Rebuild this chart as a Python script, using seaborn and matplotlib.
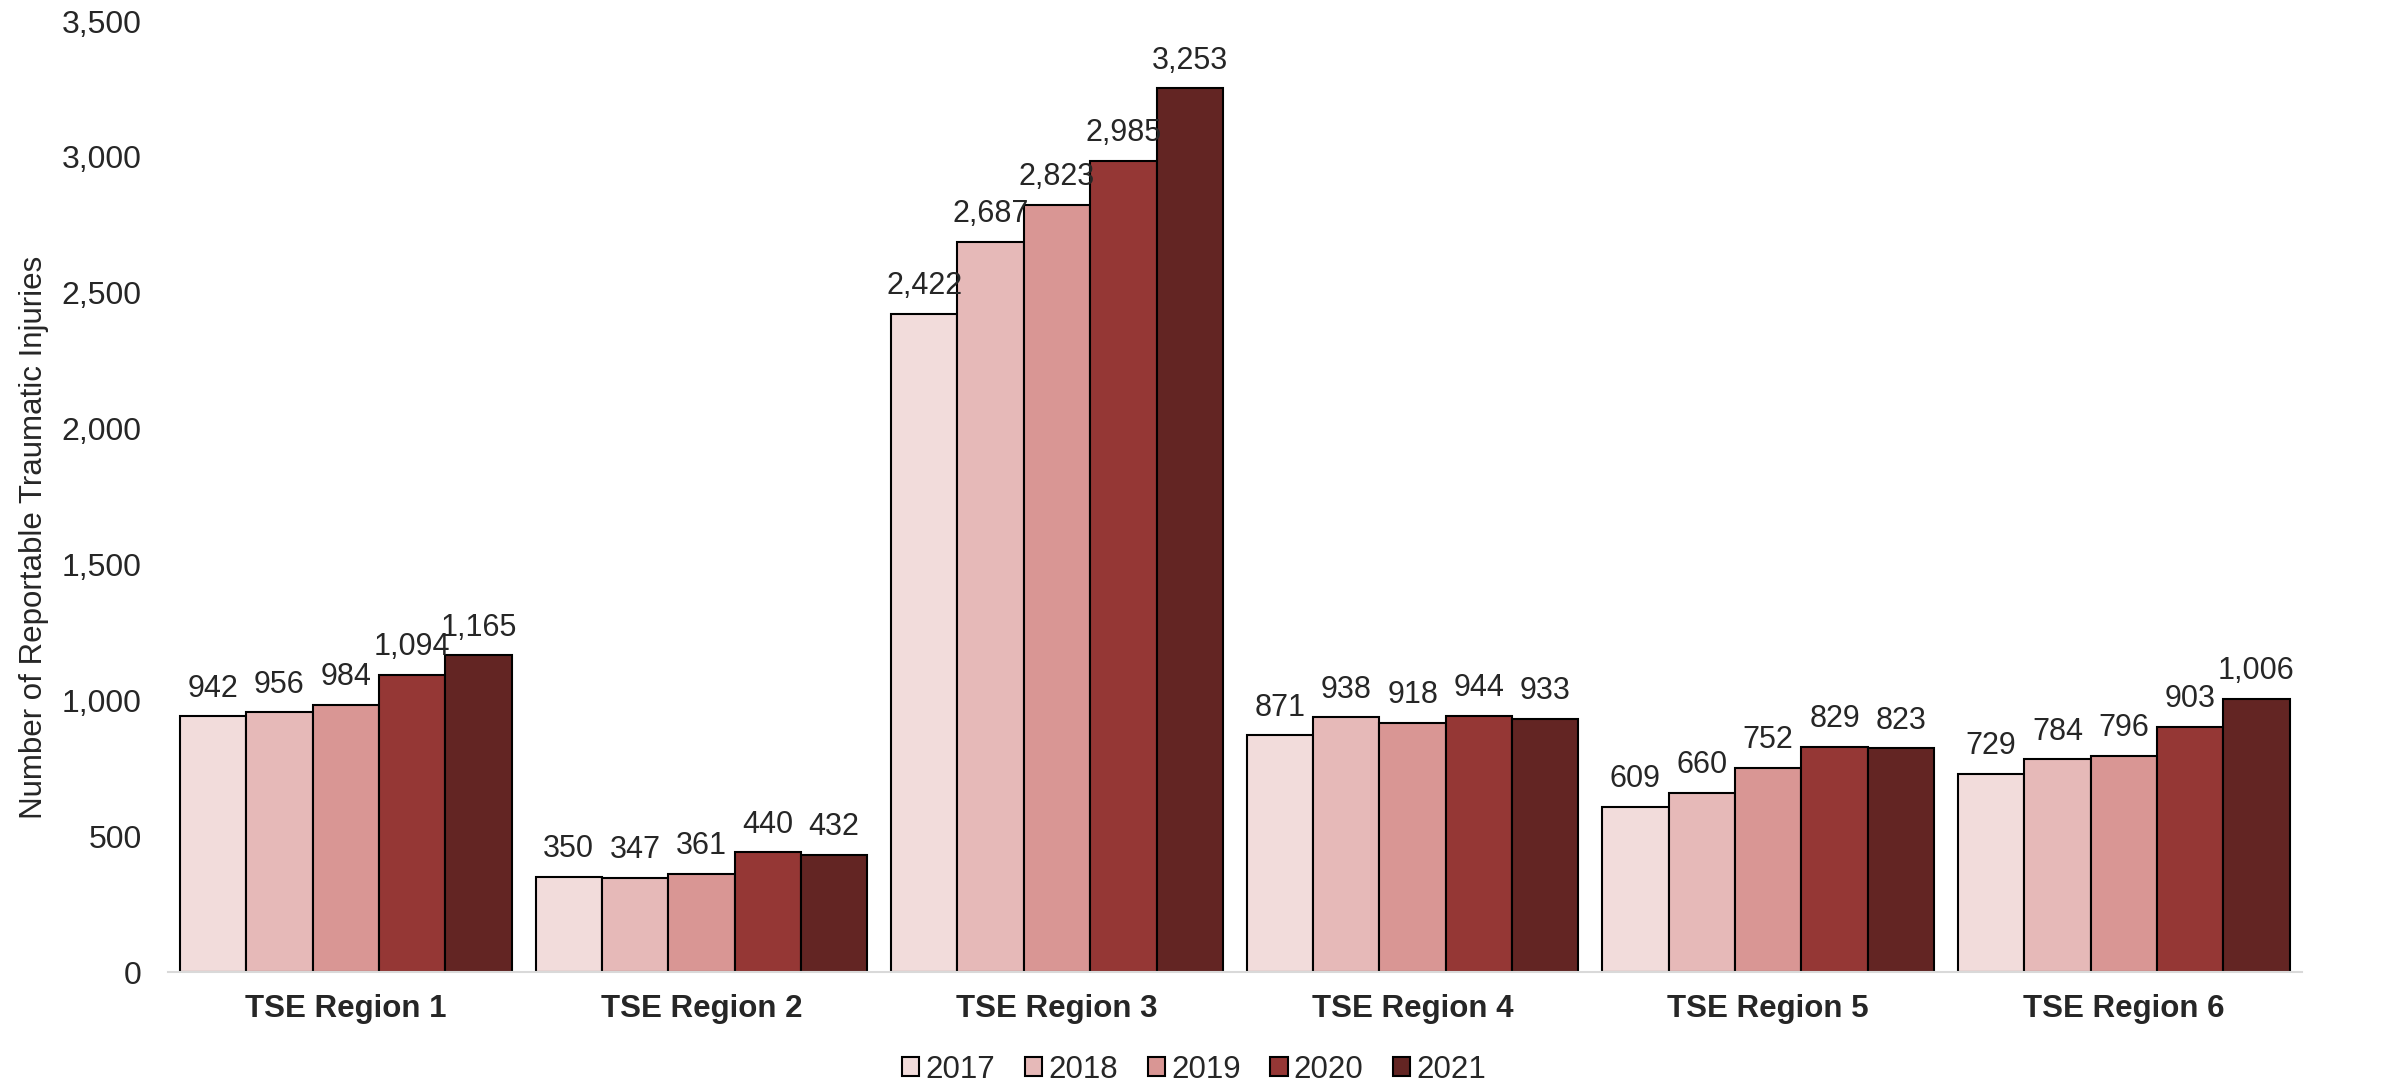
import matplotlib.pyplot as plt
import matplotlib.ticker as mticker
import pandas as pd
import seaborn as sns

# data
regions = ['TSE Region 1', 'TSE Region 2', 'TSE Region 3',
           'TSE Region 4', 'TSE Region 5', 'TSE Region 6']
years = ['2017', '2018', '2019', '2020', '2021']
injuries_2017 = [942, 350, 2422, 871, 609, 729]
injuries_2018 = [956, 347, 2687, 938, 660, 784]
injuries_2019 = [984, 361, 2823, 918, 752, 796]
injuries_2020 = [1094, 440, 2985, 944, 829, 903]
injuries_2021 = [1165, 432, 3253, 933, 823, 1006]
year_colors = ['#F2DCDB', '#E6B9B8', '#D99694', '#953735', '#632523']

# long-form table for seaborn
series = [injuries_2017, injuries_2018, injuries_2019, injuries_2020, injuries_2021]
rows = []
for year, values in zip(years, series):
    for region, value in zip(regions, values):
        rows.append({'region': region, 'year': year, 'injuries': value})
data = pd.DataFrame(rows)

sns.set_style('white')
plt.rcParams['font.family'] = ['Liberation Sans', 'DejaVu Sans']

fig = plt.figure(figsize=(23.9, 10.84), dpi=100)
ax = fig.add_axes([0.0703, 0.1033, 0.8927, 0.8773])

sns.barplot(data=data, x='region', y='injuries', hue='year',
            hue_order=years, palette=year_colors, width=0.933,
            edgecolor='black', linewidth=1.5, saturation=1,
            errorbar=None, ax=ax)

# value labels above bars
for container in ax.containers:
    ax.bar_label(container, fmt='{:,.0f}', padding=9, fontsize=22)

ax.set_ylim(0, 3500)
ax.set_xlim(-0.5, len(regions) - 0.5)
ax.yaxis.set_major_locator(mticker.MultipleLocator(500))
ax.yaxis.set_major_formatter(mticker.StrMethodFormatter('{x:,.0f}'))
ax.tick_params(axis='y', labelsize=23, length=0, pad=19)
ax.tick_params(axis='x', labelsize=22.5, length=0, pad=16)
for lbl in ax.get_xticklabels():
    lbl.set_fontweight('bold')

ax.set_xlabel('')
ax.set_ylabel('Number of Reportable Traumatic Injuries', fontsize=22.5)
ax.yaxis.set_label_coords(-0.056, 0.457)

for side in ['top', 'right', 'left']:
    ax.spines[side].set_visible(False)
ax.spines['bottom'].set_color('#D9D9D9')
ax.spines['bottom'].set_linewidth(1.5)

# legend along the bottom
ax.legend(loc='lower center', bbox_to_anchor=(0.481, -0.148), ncol=5,
          frameon=False, fontsize=22.5, handlelength=0.55, handleheight=0.55,
          handletextpad=0.2, columnspacing=0.95)

fig.savefig('out.png', dpi=100)
plt.close()
